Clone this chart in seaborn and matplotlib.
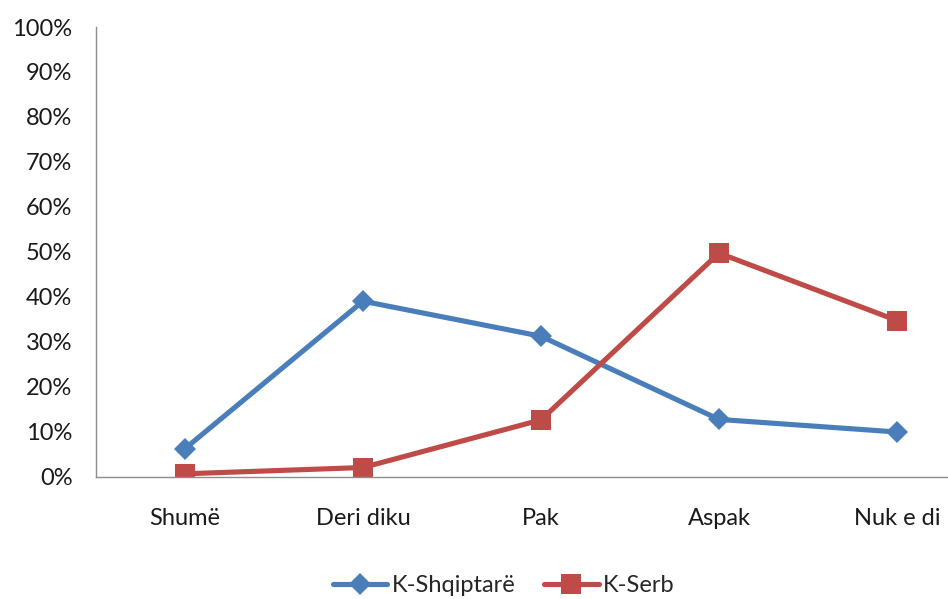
import matplotlib
matplotlib.use("Agg")
import matplotlib.pyplot as plt
import seaborn as sns
import pandas as pd
from matplotlib.ticker import PercentFormatter
from matplotlib.lines import Line2D

categories = ["Shumë", "Deri diku", "Pak", "Aspak", "Nuk e di"]
series_names = ["K-Shqiptarë", "K-Serb"]
k_shqiptare = [6.2, 39.0, 31.2, 12.7, 9.9]
k_serb = [0.6, 2.0, 12.6, 49.7, 34.7]
y_ticks = list(range(0, 101, 10))

df = pd.DataFrame({
    "cat": categories * 2,
    "val": k_shqiptare + k_serb,
    "grupi": [series_names[0]] * 5 + [series_names[1]] * 5,
})

sns.set_theme(style="white")
plt.rcParams["font.family"] = ["Lato", "DejaVu Sans"]

FS = 17
fig = plt.figure(figsize=(9.48, 5.99), dpi=100)
ax = fig.add_axes([96 / 948, 1 - 476.5 / 599, 890 / 948, 449.5 / 599])

palette = {"K-Shqiptarë": "#4A7EBB", "K-Serb": "#BE4B48"}
markers = {"K-Shqiptarë": "D", "K-Serb": "s"}
msizes = {"K-Shqiptarë": 11.5, "K-Serb": 14.5}
sns.lineplot(data=df, x="cat", y="val", hue="grupi", style="grupi",
             markers=markers, dashes=False, palette=palette, sort=False,
             linewidth=3.7, markersize=13, markeredgewidth=0, ax=ax,
             legend=False)
# diamonds look smaller than squares at the same size
for line, name in zip(ax.lines, series_names):
    line.set_markersize(msizes[name])

ax.set_xlim(-0.5, 4.5)
ax.set_ylim(0, 100)
ax.set_yticks(y_ticks)
ax.yaxis.set_major_formatter(PercentFormatter(decimals=0))
ax.set_xlabel("")
ax.set_ylabel("")
ax.tick_params(axis="both", length=0, labelsize=FS, colors="#1a1a1a")
ax.tick_params(axis="x", pad=23)
ax.tick_params(axis="y", pad=17)
for side in ["top", "right"]:
    ax.spines[side].set_visible(False)
for side in ["left", "bottom"]:
    ax.spines[side].set_color("#8c8c8c")
    ax.spines[side].set_linewidth(1.0)

handles = [Line2D([], [], color=palette[n], marker=markers[n], linewidth=3.7,
                  markersize=msizes[n], markeredgewidth=0)
           for n in series_names]
fig.legend(handles, series_names, loc="center", ncol=2,
           bbox_to_anchor=(504 / 948, 1 - 586 / 599), frameon=False,
           fontsize=FS, handlelength=2.3, columnspacing=1.2, handletextpad=0.2)

fig.savefig("out.png", dpi=100)
